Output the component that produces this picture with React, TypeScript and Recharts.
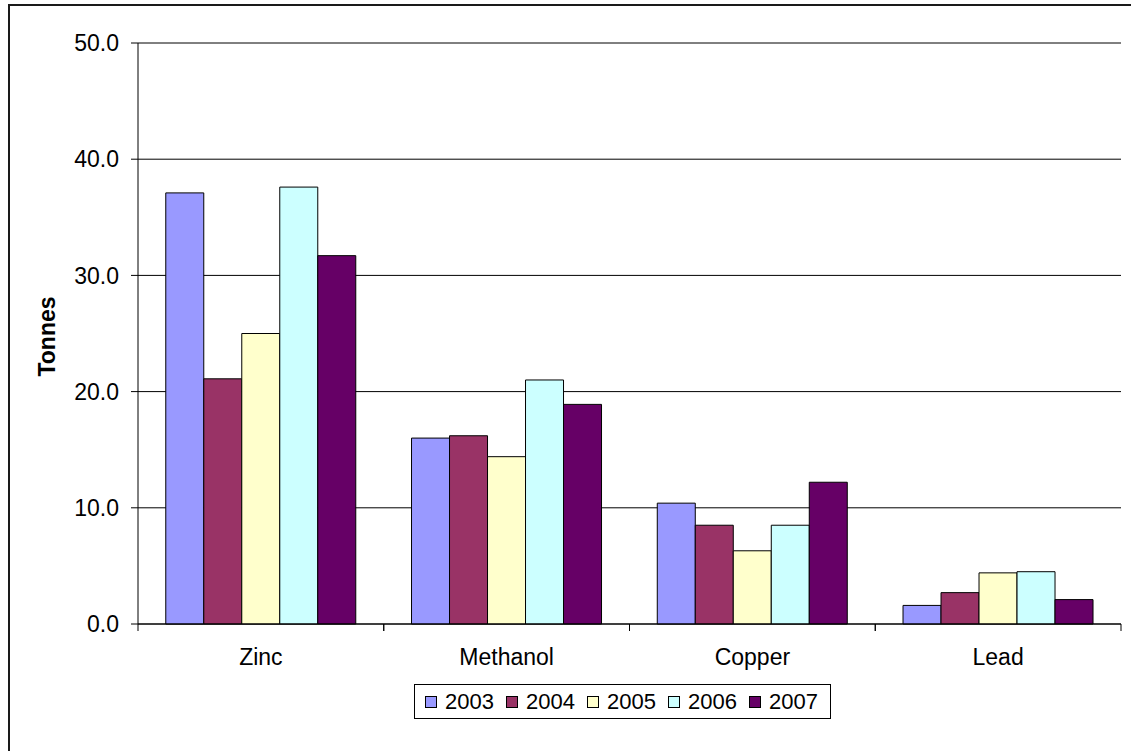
import React from 'react';
import { BarChart, Bar, XAxis, YAxis, CartesianGrid, Legend } from 'recharts';

const categories = ['Zinc', 'Methanol', 'Copper', 'Lead'];
const seriesNames = ['2003', '2004', '2005', '2006', '2007'];
const values2003 = [37.1, 16.0, 10.4, 1.6];
const values2004 = [21.1, 16.2, 8.5, 2.7];
const values2005 = [25.0, 14.4, 6.3, 4.4];
const values2006 = [37.6, 21.0, 8.5, 4.5];
const values2007 = [31.7, 18.9, 12.2, 2.1];
const seriesColors = ['#9999FF', '#993366', '#FFFFCC', '#CCFFFF', '#660066'];
const yTicks = [0, 10, 20, 30, 40, 50];
const yLabel = 'Tonnes';

const allValues = [values2003, values2004, values2005, values2006, values2007];
const data = categories.map((c, i) => {
  const row: Record<string, any> = { name: c };
  seriesNames.forEach((s, j) => { row[s] = allValues[j][i]; });
  return row;
});

const FONT = '"Liberation Sans", Arial, sans-serif';
const FS = 23;

const XTick = (props: any) => {
  const { x, y, payload } = props;
  const half = payload && typeof payload.offset === 'number' ? payload.offset : 0;
  const ay = y - 25;
  return (
    <g>
      <line x1={x - half} x2={x - half} y1={ay} y2={ay + 7} stroke="#000" strokeWidth={1} />
      <line x1={x + half} x2={x + half} y1={ay} y2={ay + 7} stroke="#000" strokeWidth={1} />
      <text x={x} y={y} dy="0.71em" textAnchor="middle" fontFamily={FONT} fontSize={FS} fill="#000">
        {payload.value}
      </text>
    </g>
  );
};

const LegendBox = (props: any) => {
  const payload = props.payload || [];
  return (
    <div style={{ border: '1px solid #000', height: 35, boxSizing: 'border-box', display: 'flex', alignItems: 'center', paddingLeft: 10, fontFamily: FONT, fontSize: 22, color: '#000', background: '#fff' }}>
      {payload.map((p: any) => (
        <div key={p.value} style={{ display: 'flex', alignItems: 'center', width: 81 }}>
          <span style={{ display: 'inline-block', width: 12, height: 12, background: p.color, border: '1px solid #000', boxSizing: 'border-box', marginRight: 8 }} />
          <span>{p.value}</span>
        </div>
      ))}
    </div>
  );
};

export default function App() {
  return (
    <div style={{ position: 'absolute', left: 0, top: 0, width: 1131, height: 751, overflow: 'hidden', background: '#fff' }}>
      <div style={{ position: 'absolute', left: 8, top: 4, width: 1200, height: 800, border: '2px solid #1a1a1a', boxSizing: 'border-box' }} />
      <div style={{ position: 'absolute', left: 0, top: 0 }}>
        <BarChart width={1131} height={751} data={data} margin={{ top: 43, right: 10, bottom: 67, left: 0 }} barCategoryGap="11.3%" barGap={0}>
          <CartesianGrid vertical={false} stroke="#000" strokeWidth={1} />
          <XAxis dataKey="name" height={60} tickLine={false} tickSize={0} tickMargin={25} axisLine={{ stroke: '#000' }} tick={<XTick />} interval={0} />
          <YAxis width={138} domain={[0, 50]} ticks={yTicks} tickFormatter={(v: number) => v.toFixed(1)} tickSize={7} tickMargin={12}
            axisLine={{ stroke: '#000' }} tickLine={{ stroke: '#000' }}
            tick={{ fontFamily: FONT, fontSize: FS, fill: '#000' }}
            label={{ value: yLabel, content: (lp: any) => {
              const vb = lp.viewBox || { y: 43, height: 581 };
              const cy = vb.y + vb.height / 2 + 3;
              return <text x={55} y={cy} transform={`rotate(-90 55 ${cy})`} textAnchor="middle" fontFamily={FONT} fontSize={23} fontWeight="bold" fill="#000">{yLabel}</text>;
            } }} />
          <YAxis yAxisId="r" orientation="right" width={0} tick={false} tickLine={false} axisLine={{ stroke: '#808080' }} />
          <Legend verticalAlign="middle" align="center" layout="horizontal" content={<LegendBox />}
            wrapperStyle={{ position: 'absolute', left: 414, top: 684, width: 417, height: 35 }} />
          {seriesNames.map((s, j) => (
            <Bar key={s} dataKey={s} fill={seriesColors[j]} stroke="#000" strokeWidth={1} isAnimationActive={false} />
          ))}
        </BarChart>
      </div>
    </div>
  );
}
